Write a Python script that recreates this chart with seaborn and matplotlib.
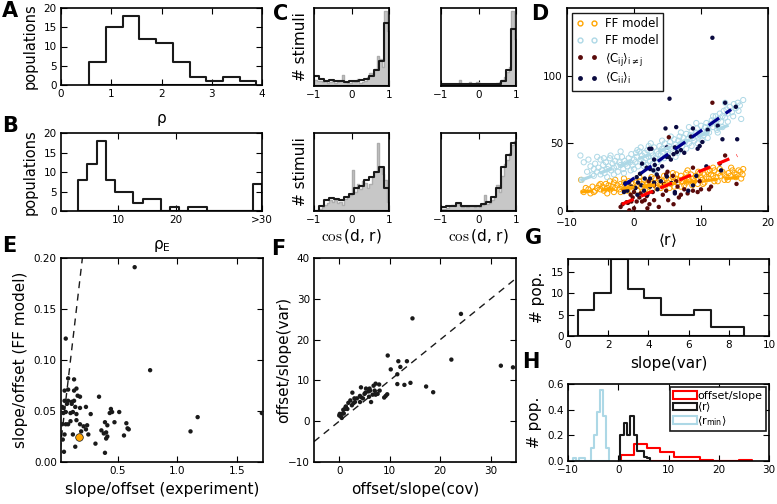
import numpy as np
import matplotlib
matplotlib.use('Agg')
import matplotlib.pyplot as plt
import seaborn as sns
from matplotlib.patches import Patch
from matplotlib.lines import Line2D

# ---------------- data ----------------
# A: histogram of rho
a_range = (0.56, 3.89)
a_counts = [6, 15, 18, 12, 11, 6, 2, 1, 2, 1]
# B: histogram of rho_E (last bin = ">30")
b_range = (3.0, 35.0)
b_counts = [8, 12, 18, 8, 5, 5, 2, 3, 3, 0, 1, 0, 1, 1, 0, 0, 0, 0, 0, 7]
b_ticks = [10, 20, 35]
b_ticklabels = ['10', '20', '>30']
# C: cos(d, r) histograms on [-1, 1]; gray = data (30 bins), black = model (15 bins)
c_range = (-1.0, 1.0)
c1_gray = [8, 6, 7, 5, 6, 4, 5, 6, 4, 5, 6, 14, 5, 4, 4, 6, 5, 9, 4, 5, 7, 12, 17, 14, 22, 38, 35, 25, 96, 70]
c1_black = [12.5, 9.5, 7, 8, 6, 7, 5, 7, 7, 8, 9.5, 12.5, 21, 32, 81]
c2_gray = [2, 2, 3, 2, 2, 2, 3, 8, 2, 2, 3, 5, 2, 3, 5, 3, 2, 2, 2, 3, 3, 2, 4, 5, 8, 12, 18, 25, 96, 60]
c2_black = [3, 3, 2, 2, 3, 2, 2, 3, 2, 2, 3, 3, 7, 20, 73]
c3_gray = [0, 0, 3, 5, 8, 10, 14, 12, 14, 10, 12, 8, 15, 18, 20, 53, 25, 35, 28, 38, 36, 30, 35, 44, 50, 87, 57, 48, 40, 12]
c3_black = [0, 6, 14, 17, 16, 14, 18, 22, 29, 32, 40, 44, 50, 57, 29]
c4_gray = [2, 3, 4, 6, 8, 6, 10, 8, 5, 6, 5, 6, 7, 5, 6, 5, 8, 20, 9, 10, 14, 18, 33, 25, 45, 60, 65, 75, 85, 90]
c4_black = [5, 6, 7, 10, 7, 6, 6, 7, 9, 11, 18, 29, 57, 72, 87]

# D: responses vs mean rate
ff_orange = [(-7.9,23),(-7.5,14),(-6.8,16),(-6.2,18),(-5.8,15),(-5.5,17),(-5.2,19),(-5.0,16),(-4.7,18),(-4.5,15),
             (-4.2,20),(-4.0,17),(-3.8,19),(-3.5,16),(-3.2,18),(-3.0,21),(-2.8,17),(-2.5,19),(-2.2,16),(-2.0,20),
             (-1.8,18),(-1.5,21),(-1.2,17),(-1.0,19),(-0.8,22),(-0.5,18),(-0.2,20),(0.0,17),(0.3,21),(0.5,19),
             (0.8,22),(1.0,18),(1.2,20),(1.5,23),(1.8,19),(2.0,21),(2.2,18),(2.5,22),(2.8,20),(3.0,24),
             (3.2,19),(3.5,21),(3.8,23),(4.0,20),(4.2,22),(4.5,19),(4.8,24),(5.0,21),(5.2,23),(5.5,20),
             (5.8,25),(6.0,22),(6.2,24),(6.5,21),(6.8,23),(7.0,26),(7.2,22),(7.5,24),(7.8,21),(8.0,25),
             (8.2,23),(8.5,27),(8.8,24),(9.0,22),(9.2,26),(9.5,24),(9.8,28),(10.0,25),(10.2,23),(10.5,27),
             (10.8,25),(11.0,29),(11.2,24),(11.5,27),(11.8,26),(12.0,30),(12.3,25),(12.6,28),(12.9,26),(13.2,29),
             (13.5,27),(13.8,25),(14.1,28),(14.4,26),(14.7,30),(15.0,28),(15.3,27),(15.6,30),(15.9,29),(16.3,31),
             (16.0,24),(-6.5,13),(0.5,15),(6.0,18),(9.5,20),(12.5,22),(14.0,23),(2.0,16),(4.0,17),(-3.0,14),
             (7.5,19),(-1.0,15),(10.5,21),(8.0,30),(11.8,32),
             (-7.2,17),(-6.0,14),(-5.0,20),(-4.0,13),(-3.6,22),(-2.0,14),(-1.5,24),(-0.3,15),(0.8,25),(1.7,16),
             (2.6,25),(3.4,17),(4.5,26),(5.3,17),(6.3,27),(7.0,18),(7.8,28),(8.7,19),(9.6,29),(10.3,20),
             (11.3,30),(12.0,22),(12.8,31),(13.5,23),(14.5,32),(15.2,25),(16.2,27),(-2.8,23),(1.3,14),(5.8,28)]
ff_blue = [(-8.0,41),(-7.8,23),(-7.0,29),(-6.5,33),(-6.2,27),(-6.0,31),(-5.8,35),(-5.5,29),(-5.3,32),(-5.0,38),
           (-4.8,30),(-4.6,34),(-4.4,28),(-4.2,36),(-4.0,31),(-3.8,33),(-3.6,39),(-3.4,30),(-3.2,35),(-3.0,32),
           (-2.8,37),(-2.6,33),(-2.4,29),(-2.2,36),(-2.0,34),(-1.8,40),(-1.6,31),(-1.4,37),(-1.2,35),(-1.0,33),
           (-0.8,39),(-0.6,36),(-0.4,42),(-0.2,34),(0.0,38),(0.2,36),(0.4,40),(0.6,33),(0.8,44),(1.0,38),
           (1.2,41),(1.4,36),(1.6,43),(1.8,39),(2.0,45),(2.2,40),(2.4,37),(2.6,43),(2.8,41),(3.0,47),
           (3.2,39),(3.4,44),(3.6,42),(3.8,48),(4.0,41),(4.2,46),(4.4,43),(4.6,50),(4.8,45),(5.0,42),
           (5.2,48),(5.4,51),(5.6,46),(5.8,44),(6.0,53),(6.2,49),(6.4,47),(6.6,52),(6.8,55),(7.0,50),
           (7.2,48),(7.4,54),(7.6,51),(7.8,57),(8.0,53),(8.2,50),(8.4,56),(8.6,59),(8.8,54),(9.0,52),
           (9.2,58),(9.4,61),(9.6,55),(9.8,57),(10.0,63),(10.2,59),(10.4,56),(10.6,62),(10.8,65),(11.0,60),
           (11.2,58),(11.4,64),(11.6,67),(11.8,62),(12.0,66),(12.2,70),(12.4,63),(12.6,68),(12.8,72),(13.0,66),
           (13.2,70),(13.4,74),(13.6,69),(13.8,75),(14.0,72),(14.3,77),(14.6,73),(14.9,79),(15.2,76),(15.5,80),
           (15.8,78),(16.3,82),(3.5,36),(6.5,43),(9.5,50),(-3.0,27),(1.5,33),(12.5,58),(0.5,45),(2.5,50),(-5.5,40),
           (-7.5,36),(-6.8,38),(-6.0,26),(-5.0,27),(-4.5,39),(-3.5,41),(-2.5,40),(-1.5,28),(-0.5,30),(0.3,43),
           (1.0,47),(1.8,34),(2.8,35),(3.8,38),(4.5,39),(5.5,55),(6.2,40),(7.0,58),(7.8,46),(8.6,48),
           (9.3,65),(10.2,52),(11.0,54),(11.8,70),(12.4,60),(13.2,62),(14.0,66),(14.8,70),(15.6,74),(16.0,68),
           (-2.0,44),(0.0,31),(2.2,48),(4.2,52),(6.8,45),(8.2,62),(10.8,58),(13.6,80),(-4.0,25),(3.0,30)]
cij = [(11.7,80),(8.8,32),(13.6,41),(5.2,54.5),(4.8,27),(5.0,29),(5.8,26),(15.3,20),(11.2,16),(11.5,18),
       (8.8,15),(9.5,14),(4.8,15),(5.1,8),(5.9,5),(-0.9,6),(-0.4,7),(0.4,7),(1.2,7),(1.6,8),
       (-2.0,3),(-1.7,5),(-1.1,6.5),(-0.7,0.5),(0.0,2),(-0.2,10),(0.8,10),(1.9,11),(2.3,5),(2.8,14),
       (3.0,8),(6.3,22),(7.0,12),(7.5,16),(8.0,13),(2.2,22),(3.0,19),(1.0,13),(-0.5,12),(3.6,25),
       (4.5,20),(6.5,18),(9.8,22),(12.8,35),(-1.5,16),(0.2,17),(6.7,10),(3.7,3),(2.0,2),(0.0,14),
       (4.3,12),(10.0,16)]
cii = [(11.7,128),(5.3,83),(13.6,80),(15.2,77),(4.7,61),(6.3,62),(8.8,61),(10.2,51),(13.2,53),(15.4,53),
       (6.1,47),(6.4,43.5),(4.9,47),(2.3,46),(2.6,46),(4.9,40),(5.2,40),(5.9,42),(7.0,45),(9.8,48),
       (1.2,35),(1.9,32),(2.4,31),(2.9,30),(3.1,34),(3.6,31),(0.4,25),(0.9,27.5),(1.6,24),(2.4,24),
       (3.4,27),(-1.3,20.5),(-0.8,21),(-0.4,18),(0.2,17),(0.6,21),(1.1,19),(2.4,18),(3.0,21),(4.9,25.5),
       (5.6,20.6),(6.1,14),(6.1,13),(8.1,15),(8.8,19),(10.8,33),(9.3,26),(13.0,30),(1.5,15),(-1.0,15),
       (2.0,12),(3.5,16),(4.2,33),(5.5,38),(7.5,43),(8.5,55),(12.5,63),(11.0,60),(9.5,46),(0.5,12),
       (-1.5,14),(3.0,38),(4.0,22)]
# regression lines (endpoints) in D
fit_orange = ([-8.0, 16.0], [14.0, 25.0])
fit_blue = ([-8.0, 15.0], [22.6, 65.0])
fit_red = ([-1.8, 15.4], [5.0, 41.0])
fit_navy = ([-1.5, 14.5], [19.0, 75.0])

# E: slope/offset experiment vs FF model
e_x = [0.06,0.77,0.08,0.13,0.05,0.08,0.13,0.15,0.16,0.18,0.34,0.05,0.08,0.11,0.13,0.03,0.04,0.07,0.11,
       0.14,0.18,0.23,0.44,0.43,0.45,0.04,0.06,0.10,0.12,0.15,0.27,0.51,0.39,0.47,0.41,1.17,1.71,0.03,
       0.06,0.08,0.10,0.15,0.18,0.21,0.23,0.24,0.36,0.40,0.38,0.41,0.40,0.57,0.58,0.59,0.55,1.11,0.05,
       0.12,0.19,0.25,0.035,0.31,0.14,0.045,0.39,0.64]
e_y = [0.121,0.090,0.082,0.081,0.070,0.071,0.070,0.072,0.065,0.064,0.064,0.060,0.060,0.059,0.060,0.054,
       0.053,0.057,0.057,0.054,0.053,0.054,0.052,0.048,0.049,0.048,0.049,0.048,0.049,0.047,0.047,0.049,
       0.039,0.039,0.036,0.044,0.048,0.037,0.037,0.037,0.040,0.041,0.037,0.035,0.032,0.036,0.031,0.029,
       0.028,0.025,0.023,0.038,0.033,0.032,0.026,0.030,0.027,0.027,0.030,0.027,0.022,0.018,0.015,0.010,
       0.009,0.191]
e_special = ([0.17], [0.025])

# F: offset/slope(cov) vs offset/slope(var)
f_x = [14.5,24.1,9.6,22.2,11.7,13.4,12.1,32.0,34.4,10.2,11.5,11.5,12.9,14.1,17.2,18.6,9.5,9.2,8.9,
       6.8,7.2,7.9,7.0,6.1,4.3,5.3,6.0,5.2,5.8,8.0,6.6,7.2,7.6,5.9,6.3,5.0,4.1,3.5,4.1,4.3,2.6,
       2.2,1.8,2.5,2.8,3.1,1.3,1.6,0.8,1.1,1.3,0.1,0.3,0.5,0.0,0.7,0.9,3.0,4.7]
f_y = [25.2,26.3,16.1,15.1,14.7,14.7,13.3,13.6,13.2,12.7,11.5,9.1,8.9,9.4,8.5,7.1,6.6,6.2,5.8,
       8.7,9.2,9.0,7.5,7.5,8.3,8.0,8.0,7.0,7.3,7.5,6.5,6.5,6.7,6.0,4.7,6.7,6.2,5.6,4.7,5.9,7.0,
       5.1,4.5,3.9,4.4,4.7,3.6,3.0,2.8,3.0,3.5,1.8,1.2,0.8,1.4,1.9,1.9,5.6,5.6]

# G: histogram slope(var)
g_range = (0.48, 8.76)
g_counts = [6, 10, 18, 11, 9, 5, 5, 6, 2, 2]

# H: normalized histograms
h_red_range = (0.6, 26.6)
h_red = [0.05, 0.13, 0.10, 0.07, 0.03, 0.03, 0.01, 0.0, 0.0, 0.01]
h_black_range = (0.4, 6.4)
h_black = [0.20, 0.30, 0.20, 0.35, 0.20, 0.08, 0.08, 0.03, 0.02]
h_blue_range = (-9.0, -1.8)
h_blue = [0.02, 0.0, 0.02, 0.02, 0.0, 0.0, 0.10, 0.20, 0.38, 0.55, 0.35, 0.10]

# ---------------- style ----------------
sns.set_theme(style='ticks')
plt.rcParams.update({
    'font.family': ['DejaVu Sans'],
    'mathtext.fontset': 'cm',
    'mathtext.default': 'regular',
    'xtick.direction': 'in', 'ytick.direction': 'in',
    'xtick.top': True, 'ytick.right': True,
    'xtick.color': 'black', 'ytick.color': 'black',
    'axes.edgecolor': 'black', 'axes.linewidth': 1.2,
    'xtick.labelsize': 7.5, 'ytick.labelsize': 7.5,
    'axes.labelsize': 11,
    'xtick.major.size': 4, 'ytick.major.size': 4,
    'xtick.major.width': 0.8, 'ytick.major.width': 0.8,
    'xtick.major.pad': 3, 'ytick.major.pad': 3,
    'text.color': 'black', 'axes.labelcolor': 'black',
})

W, H = 777, 504
fig = plt.figure(figsize=(W / 100, H / 100), dpi=100)


def add_ax(left, top, right, bottom):
    return fig.add_axes([left / W, 1 - bottom / H, (right - left) / W, (bottom - top) / H])


def centers(rng, n):
    e = np.linspace(rng[0], rng[1], n + 1)
    return (e[:-1] + e[1:]) / 2


def step_hist(ax, rng, counts, edge='k', face='none', lw=1.5):
    n = len(counts)
    sns.histplot(x=centers(rng, n), weights=counts, bins=n, binrange=rng,
                 element='step', fill=True, color=edge, facecolor=face, edgecolor=edge,
                 linewidth=lw, ax=ax)
    ax.set_ylabel('')


# A
axA = add_ax(61, 8, 262, 85)
step_hist(axA, a_range, a_counts)
axA.set_xlim(0, 4); axA.set_ylim(0, 20)
axA.set_xticks([0, 1, 2, 3, 4]); axA.set_yticks([0, 5, 10, 15, 20])
axA.set_ylabel('populations', fontsize=10.5)
axA.set_xlabel(r'$\rho$', labelpad=9)

# B
axB = add_ax(61, 133, 262, 211)
step_hist(axB, b_range, b_counts)
axB.set_xlim(0, 35); axB.set_ylim(0, 20)
axB.set_xticks(b_ticks); axB.set_xticklabels(b_ticklabels)
axB.set_yticks([0, 5, 10, 15, 20])
axB.set_ylabel('populations', fontsize=10.5)
axB.set_xlabel(r'$\rho_E$', labelpad=9)

# C
c_specs = [((314, 8, 389, 86), c1_gray, c1_black, True, False),
           ((441, 8, 516, 86), c2_gray, c2_black, False, False),
           ((314, 133, 389, 211), c3_gray, c3_black, True, True),
           ((441, 133, 516, 211), c4_gray, c4_black, False, True)]
for rect, gray, black, ylab, xlab in c_specs:
    ax = add_ax(*rect)
    step_hist(ax, c_range, gray, edge='0.68', face='0.78', lw=1.0)
    step_hist(ax, c_range, black, edge='k', face='none', lw=1.5)
    ax.set_xlim(-1, 1); ax.set_ylim(0, 100)
    ax.set_xticks([-1, 0, 1]); ax.set_yticks([])
    if ylab:
        ax.set_ylabel('# stimuli')
    if xlab:
        ax.set_xlabel(r'$\cos$(d, r)', labelpad=1)

# D
axD = add_ax(567, 8, 768, 211)
ms = 14
sns.scatterplot(x=[p[0] for p in ff_orange], y=[p[1] for p in ff_orange], ax=axD, color='orange',
                facecolor='none', edgecolor='orange', s=ms, linewidth=0.7, zorder=2)
sns.scatterplot(x=[p[0] for p in ff_blue], y=[p[1] for p in ff_blue], ax=axD, color='lightblue',
                facecolor='none', edgecolor='lightblue', s=ms, linewidth=0.7, zorder=2)
sns.scatterplot(x=[p[0] for p in cij], y=[p[1] for p in cij], ax=axD,
                color='#5a0a0a', edgecolor='none', s=10, zorder=3)
sns.scatterplot(x=[p[0] for p in cii], y=[p[1] for p in cii], ax=axD,
                color='#0a0a40', edgecolor='none', s=10, zorder=3)
for (lx, ly), col in [(fit_orange, 'orange'), (fit_blue, 'lightblue'),
                      (fit_red, 'red'), (fit_navy, 'darkblue')]:
    sns.lineplot(x=lx, y=ly, ax=axD, color=col, linewidth=2.3, zorder=4)
    axD.lines[-1].set_dashes((4, 2.5))
axD.set_xlim(-10, 20); axD.set_ylim(0, 150)
axD.set_xticks([-10, 0, 10, 20]); axD.set_yticks([0, 50, 100])
axD.tick_params(axis='x', pad=5)
axD.set_xlabel(r'$\langle$r$\rangle$', labelpad=2)
handles = [Line2D([], [], ls='', marker='o', mfc='none', mec='orange', ms=3.5),
           Line2D([], [], ls='', marker='o', mfc='none', mec='lightblue', ms=3.5),
           Line2D([], [], ls='', marker='o', mfc='#5a0a0a', mec='none', ms=3.5),
           Line2D([], [], ls='', marker='o', mfc='#0a0a40', mec='none', ms=3.5)]
labels = ['FF model', 'FF model', r'$\langle C_{ij}\rangle_{i\neq j}$', r'$\langle C_{ii}\rangle_{i}$']
leg = axD.legend(handles, labels, loc='upper left', numpoints=2, fontsize=8.5,
                 frameon=True, fancybox=False, edgecolor='k', framealpha=1,
                 handlelength=1.8, borderpad=0.4, labelspacing=0.3, handletextpad=0.6,
                 bbox_to_anchor=(0.0, 1.0), borderaxespad=0.4)
leg.get_frame().set_linewidth(1.0)

# E
axE = add_ax(61, 258, 263, 462)
sns.lineplot(x=[0.0, 0.2], y=[0.0, 0.2], ax=axE, color='k', linewidth=1.0)
axE.lines[-1].set_dashes((5, 4))
sns.scatterplot(x=e_x, y=e_y, ax=axE, color='k', edgecolor='none', s=10, zorder=3)
sns.scatterplot(x=e_special[0], y=e_special[1], ax=axE, color='orange', edgecolor='k',
                linewidth=0.5, s=30, zorder=4)
axE.set_xlim(0.02, 1.72); axE.set_ylim(0, 0.2)
axE.set_xticks([0.5, 1.0, 1.5]); axE.set_yticks([0, 0.05, 0.10, 0.15, 0.20])
axE.set_yticklabels(['0.00', '0.05', '0.10', '0.15', '0.20'])
axE.set_xlabel('slope/offset (experiment)')
axE.set_ylabel('slope/offset (FF model)')

# F
axF = add_ax(314, 258, 516, 462)
sns.lineplot(x=[-5, 35], y=[-5, 35], ax=axF, color='k', linewidth=1.0)
axF.lines[-1].set_dashes((5, 4))
sns.scatterplot(x=f_x, y=f_y, ax=axF, color='k', edgecolor='none', s=10, zorder=3)
axF.set_xlim(-5, 35); axF.set_ylim(-10, 40)
axF.set_xticks([0, 10, 20, 30]); axF.set_yticks([-10, 0, 10, 20, 30, 40])
axF.set_xlabel('offset/slope(cov)')
axF.set_ylabel('offset/slope(var)', labelpad=-2)

# G
axG = add_ax(568, 259, 769, 336)
step_hist(axG, g_range, g_counts)
axG.set_xlim(0, 10); axG.set_ylim(0, 18)
axG.set_xticks([0, 2, 4, 6, 8, 10]); axG.set_yticks([0, 5, 10, 15])
axG.set_xlabel('slope(var)')
axG.set_ylabel('# pop.')

# H
axH = add_ax(568, 384, 769, 461)
step_hist(axH, h_blue_range, h_blue, edge='lightblue')
step_hist(axH, h_red_range, h_red, edge='red')
step_hist(axH, h_black_range, h_black, edge='k')
axH.set_xlim(-10, 30); axH.set_ylim(0, 0.6)
axH.set_xticks([-10, 0, 10, 20, 30]); axH.set_yticks([0, 0.2, 0.4, 0.6])
axH.set_yticklabels(['0.0', '0.2', '0.4', '0.6'])
axH.set_ylabel('# pop.')
hh = [Patch(facecolor='none', edgecolor='red', linewidth=1.5),
      Patch(facecolor='none', edgecolor='k', linewidth=1.5),
      Patch(facecolor='none', edgecolor='lightblue', linewidth=1.5)]
legH = axH.legend(hh, ['offset/slope', r'$\langle$r$\rangle$', r'$\langle r_{min}\rangle$'],
                  loc='upper right', fontsize=8, frameon=True, fancybox=False, edgecolor='k',
                  framealpha=1, handlelength=2.2, handletextpad=0.0, labelspacing=0.0,
                  borderpad=0.3, borderaxespad=0.3)
legH.get_frame().set_linewidth(1.2)

# panel letters
for t, x, y in [('A', 10, 11), ('B', 10, 126), ('C', 281, 14), ('D', 540, 14),
                ('E', 9, 246), ('F', 278, 249), ('G', 534, 238), ('H', 531, 362)]:
    fig.text(x / W, 1 - y / H, t, fontsize=15, fontweight='bold', ha='center', va='center')

fig.savefig('out.png', dpi=100)
